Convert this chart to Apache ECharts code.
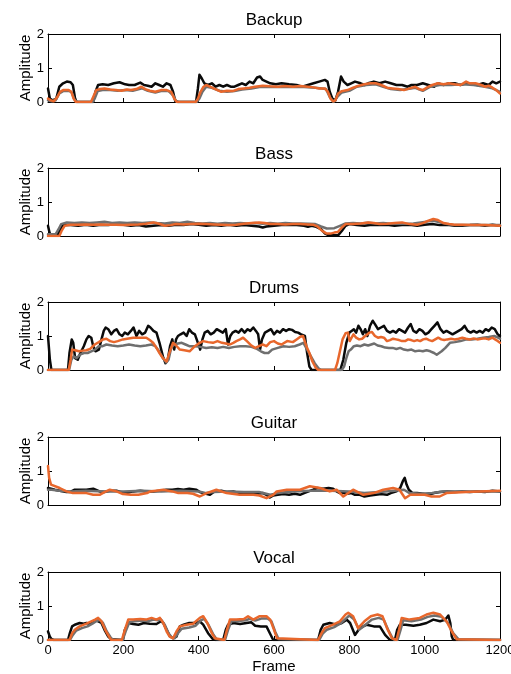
<!DOCTYPE html>
<html><head><meta charset="utf-8">
<script src="https://cdn.jsdelivr.net/npm/echarts@6/dist/echarts.min.js"></script>
<style>html,body{margin:0;padding:0;background:#fff}#c{width:511px;height:674px}</style>
</head><body><div id="c"></div>
<script>
// ---- Data: [frame, amplitude] pairs ----
const panelNames = ['Backup','Bass','Drums','Guitar','Vocal'];
const xTickValues = [0,200,400,600,800,1000,1200];
const yTickValues = [0,1,2];

const backupBlack = [[0,0.4],[5,0.1],[12,0.05],[22,0.1],[30,0.45],[40,0.55],[50,0.6],[60,0.58],[66,0.5],[72,0.1],[76,0],[120,0],[126,0.3],[133,0.5],[145,0.52],[160,0.5],[175,0.55],[190,0.58],[205,0.52],[215,0.5],[230,0.5],[245,0.57],[255,0.5],[265,0.48],[275,0.45],[285,0.55],[295,0.5],[305,0.45],[315,0.55],[325,0.5],[332,0.3],[338,0.02],[345,0],[393,0],[398,0.4],[402,0.8],[408,0.7],[415,0.55],[425,0.5],[435,0.55],[445,0.45],[455,0.5],[465,0.45],[475,0.5],[485,0.45],[495,0.45],[505,0.5],[515,0.55],[525,0.5],[535,0.6],[545,0.55],[555,0.72],[563,0.75],[570,0.65],[580,0.6],[590,0.55],[605,0.52],[620,0.55],[640,0.52],[660,0.5],[675,0.45],[690,0.5],[705,0.55],[720,0.6],[735,0.65],[742,0.6],[748,0.3],[755,0.1],[763,0.05],[770,0.3],[778,0.75],[785,0.6],[795,0.5],[805,0.55],[815,0.6],[830,0.55],[840,0.5],[850,0.55],[865,0.6],[880,0.55],[895,0.6],[910,0.55],[925,0.5],[940,0.5],[955,0.45],[965,0.5],[980,0.5],[995,0.55],[1010,0.5],[1025,0.45],[1035,0.55],[1050,0.5],[1065,0.55],[1080,0.55],[1095,0.5],[1110,0.55],[1125,0.55],[1140,0.5],[1155,0.55],[1170,0.5],[1180,0.6],[1190,0.55],[1200,0.6]];
const backupGray = [[0,0.05],[10,0.02],[20,0.05],[30,0.25],[40,0.32],[55,0.33],[63,0.28],[70,0.08],[77,0],[118,0],[124,0.1],[132,0.32],[145,0.35],[165,0.35],[185,0.33],[205,0.35],[225,0.33],[250,0.4],[265,0.33],[285,0.28],[300,0.32],[320,0.32],[332,0.2],[340,0.03],[347,0],[395,0],[402,0.1],[410,0.3],[420,0.45],[435,0.42],[455,0.33],[475,0.3],[495,0.32],[515,0.37],[540,0.4],[565,0.45],[600,0.44],[640,0.45],[680,0.44],[710,0.42],[738,0.38],[748,0.15],[758,0],[768,0.15],[780,0.28],[800,0.33],[820,0.45],[845,0.5],[870,0.52],[890,0.45],[910,0.38],[935,0.35],[955,0.38],[975,0.42],[995,0.33],[1015,0.45],[1040,0.5],[1070,0.5],[1100,0.52],[1130,0.5],[1160,0.45],[1180,0.4],[1200,0.3]];
const backupOrange = [[0,0.1],[8,0.05],[15,0.02],[25,0.15],[32,0.3],[40,0.35],[55,0.35],[62,0.3],[68,0.1],[74,0],[114,0],[120,0.15],[128,0.35],[138,0.38],[150,0.4],[165,0.37],[180,0.35],[195,0.33],[210,0.37],[220,0.35],[235,0.38],[248,0.45],[258,0.38],[270,0.33],[285,0.3],[300,0.35],[315,0.35],[327,0.3],[335,0.1],[342,0],[392,0],[398,0.1],[405,0.3],[413,0.45],[420,0.5],[430,0.45],[440,0.4],[450,0.35],[460,0.3],[475,0.33],[490,0.32],[505,0.38],[520,0.4],[535,0.42],[550,0.45],[570,0.48],[590,0.46],[610,0.45],[630,0.47],[650,0.45],[670,0.47],[690,0.45],[705,0.43],[720,0.4],[735,0.4],[743,0.3],[750,0.1],[757,0.02],[763,0.05],[770,0.25],[780,0.32],[795,0.35],[810,0.42],[825,0.48],[840,0.52],[855,0.55],[870,0.55],[885,0.5],[900,0.42],[915,0.4],[930,0.38],[945,0.35],[960,0.4],[975,0.45],[985,0.38],[995,0.35],[1005,0.42],[1020,0.5],[1035,0.55],[1050,0.52],[1065,0.55],[1080,0.52],[1095,0.5],[1110,0.6],[1120,0.55],[1135,0.55],[1150,0.5],[1160,0.45],[1170,0.48],[1180,0.42],[1190,0.35],[1200,0.25]];

const bassBlack = [[0,0.3],[4,0.1],[8,0.02],[25,0.02],[31,0.15],[38,0.3],[45,0.33],[60,0.32],[80,0.3],[100,0.33],[120,0.3],[140,0.33],[160,0.32],[180,0.35],[200,0.33],[220,0.3],[240,0.32],[260,0.28],[280,0.3],[300,0.32],[320,0.3],[340,0.33],[360,0.32],[380,0.35],[400,0.33],[420,0.3],[440,0.32],[460,0.3],[480,0.33],[500,0.3],[520,0.32],[540,0.3],[560,0.28],[570,0.25],[580,0.28],[600,0.3],[620,0.32],[640,0.33],[660,0.32],[680,0.3],[690,0.27],[700,0.3],[712,0.27],[725,0.2],[735,0.08],[745,0.02],[770,0.02],[780,0.15],[790,0.3],[800,0.35],[820,0.32],[840,0.3],[860,0.33],[880,0.32],[900,0.33],[920,0.3],[940,0.32],[960,0.33],[980,0.3],[1000,0.33],[1020,0.35],[1040,0.32],[1060,0.33],[1080,0.3],[1100,0.3],[1120,0.32],[1140,0.33],[1160,0.3],[1180,0.33],[1200,0.3]];
const bassGray = [[0,0.05],[20,0.05],[28,0.2],[35,0.35],[50,0.4],[70,0.38],[90,0.4],[110,0.38],[130,0.4],[150,0.42],[170,0.38],[190,0.4],[210,0.38],[230,0.4],[250,0.38],[270,0.4],[290,0.38],[310,0.37],[330,0.4],[350,0.38],[370,0.42],[390,0.38],[410,0.37],[430,0.38],[450,0.36],[470,0.38],[490,0.37],[510,0.38],[530,0.37],[550,0.38],[570,0.36],[590,0.38],[610,0.36],[630,0.38],[650,0.37],[670,0.37],[690,0.36],[710,0.35],[725,0.28],[740,0.22],[760,0.23],[775,0.3],[790,0.37],[810,0.38],[830,0.37],[850,0.39],[870,0.37],[890,0.38],[910,0.36],[930,0.37],[950,0.36],[970,0.37],[990,0.4],[1010,0.43],[1025,0.45],[1040,0.4],[1060,0.35],[1080,0.32],[1100,0.32],[1130,0.32],[1160,0.32],[1200,0.32]];
const bassOrange = [[0,0],[30,0],[36,0.15],[44,0.3],[60,0.33],[80,0.33],[100,0.34],[120,0.33],[140,0.34],[160,0.33],[180,0.33],[200,0.32],[220,0.33],[240,0.34],[260,0.36],[280,0.4],[295,0.36],[310,0.3],[325,0.32],[340,0.35],[360,0.34],[380,0.35],[400,0.36],[420,0.35],[440,0.34],[460,0.33],[480,0.32],[500,0.33],[520,0.36],[540,0.38],[560,0.4],[575,0.38],[590,0.35],[610,0.35],[630,0.34],[650,0.35],[670,0.35],[690,0.34],[705,0.33],[715,0.28],[728,0.15],[740,0.07],[750,0.07],[760,0.1],[770,0.12],[780,0.25],[790,0.35],[810,0.35],[830,0.37],[850,0.4],[865,0.38],[880,0.35],[900,0.36],[920,0.38],[940,0.4],[960,0.35],[980,0.33],[995,0.38],[1010,0.45],[1023,0.5],[1035,0.47],[1050,0.38],[1065,0.35],[1080,0.33],[1100,0.33],[1130,0.32],[1160,0.32],[1200,0.3]];

const drumsBlack = [[0,1.0],[5,0.3],[9,0],[53,0],[57,0.5],[63,0.9],[67,0.8],[72,0.35],[79,0.3],[86,0.5],[95,0.7],[102,0.9],[108,1.0],[115,0.95],[120,0.7],[126,0.55],[135,0.6],[142,0.9],[148,1.15],[153,1.25],[160,1.2],[168,1.05],[175,1.15],[182,1.2],[190,1.05],[197,1.0],[204,1.1],[212,1.05],[220,1.15],[227,1.25],[235,1.0],[242,1.15],[250,1.05],[258,1.1],[266,1.3],[272,1.25],[280,1.15],[288,1.1],[296,0.8],[305,0.4],[312,0.2],[318,0.3],[324,0.7],[330,0.9],[335,0.6],[340,0.9],[345,1.0],[352,1.05],[360,1.1],[368,1.0],[375,1.2],[382,1.1],[390,1.05],[398,0.8],[404,0.6],[410,0.9],[416,1.1],[424,1.15],[432,1.05],[440,1.1],[448,1.2],[456,1.15],[464,1.1],[472,1.2],[478,0.75],[484,1.0],[490,1.1],[498,1.15],[506,1.1],[514,1.2],[522,1.1],[530,1.2],[537,1.15],[545,1.25],[552,1.15],[558,1.05],[563,0.6],[568,0.9],[576,1.1],[584,1.15],[592,1.2],[600,1.05],[608,1.15],[616,1.1],[624,1.2],[632,1.15],[640,1.2],[648,1.18],[656,1.12],[664,1.1],[672,1.05],[682,1.0],[688,0.5],[694,0.1],[700,0],[776,0],[784,0.3],[792,0.8],[800,1.1],[806,1.15],[812,1.2],[818,1.1],[824,1.3],[830,1.2],[836,1.05],[842,1.2],[848,1.0],[855,1.3],[862,1.45],[868,1.35],[876,1.2],[884,1.25],[892,1.3],[900,1.15],[908,1.1],[916,1.15],[924,1.1],[932,1.2],[940,1.15],[948,1.1],[956,1.25],[963,1.35],[970,1.15],[978,1.1],[986,1.2],[994,1.15],[1002,1.05],[1010,1.1],[1018,1.2],[1026,1.3],[1034,1.4],[1042,1.2],[1050,1.1],[1058,1.15],[1066,1.1],[1074,1.05],[1082,1.1],[1090,1.15],[1098,1.2],[1106,1.3],[1114,1.15],[1122,1.1],[1130,1.15],[1138,1.1],[1146,1.15],[1154,1.1],[1162,1.2],[1170,1.15],[1178,1.25],[1186,1.2],[1194,1.05],[1200,1.0]];
const drumsGray = [[0,0],[56,0],[62,0.3],[68,0.4],[76,0.35],[85,0.45],[95,0.5],[105,0.5],[115,0.55],[125,0.6],[135,0.7],[145,0.7],[155,0.75],[170,0.72],[185,0.7],[200,0.72],[215,0.75],[230,0.72],[245,0.7],[260,0.72],[275,0.75],[285,0.7],[295,0.55],[305,0.35],[314,0.22],[320,0.3],[327,0.65],[335,0.75],[345,0.78],[355,0.8],[365,0.75],[375,0.7],[390,0.7],[405,0.68],[420,0.65],[435,0.67],[450,0.65],[465,0.68],[480,0.65],[495,0.68],[510,0.7],[525,0.7],[540,0.68],[555,0.62],[565,0.55],[575,0.5],[585,0.5],[595,0.6],[610,0.65],[625,0.7],[640,0.68],[655,0.7],[668,0.75],[678,0.8],[688,0.6],[698,0.4],[708,0.2],[718,0.05],[725,0],[780,0],[786,0.1],[792,0.35],[798,0.55],[804,0.6],[812,0.7],[820,0.72],[830,0.7],[840,0.75],[850,0.72],[858,0.75],[866,0.78],[875,0.72],[885,0.7],[895,0.66],[905,0.65],[915,0.65],[925,0.62],[935,0.65],[945,0.6],[955,0.58],[965,0.6],[975,0.55],[985,0.57],[995,0.55],[1005,0.58],[1015,0.55],[1025,0.5],[1032,0.45],[1045,0.55],[1055,0.65],[1067,0.8],[1080,0.82],[1095,0.85],[1111,0.9],[1125,0.9],[1140,0.92],[1155,0.95],[1170,0.97],[1185,1.0],[1195,0.95],[1200,0.92]];
const drumsOrange = [[0,0],[55,0],[60,0.3],[64,0.6],[72,0.58],[82,0.55],[92,0.57],[102,0.58],[112,0.62],[124,0.75],[135,0.82],[146,0.9],[155,0.92],[165,0.85],[175,0.82],[185,0.85],[199,0.9],[210,0.92],[226,0.95],[245,0.95],[261,0.95],[270,0.88],[279,0.8],[288,0.65],[296,0.5],[305,0.35],[315,0.25],[322,0.5],[332,0.8],[340,0.72],[350,0.6],[362,0.58],[376,0.55],[390,0.7],[400,0.78],[412,0.85],[425,0.82],[438,0.8],[450,0.85],[462,0.8],[472,0.78],[483,0.75],[492,0.8],[500,0.85],[510,0.9],[518,0.95],[528,0.85],[540,0.72],[550,0.65],[560,0.7],[570,0.75],[580,0.7],[590,0.82],[600,0.85],[610,0.78],[620,0.75],[635,0.85],[650,0.82],[660,0.9],[670,0.98],[677,1.0],[686,0.7],[694,0.5],[702,0.25],[710,0.08],[717,0],[762,0],[768,0.2],[775,0.55],[782,0.9],[790,1.08],[796,1.1],[801,0.85],[806,0.95],[811,1.05],[818,0.95],[826,0.9],[834,0.92],[842,1.0],[848,1.05],[854,1.1],[860,1.12],[868,1.0],[876,0.95],[884,0.97],[892,0.95],[900,0.85],[908,0.88],[916,0.92],[924,0.9],[932,0.88],[940,0.85],[948,0.85],[956,0.9],[964,0.88],[972,0.85],[980,0.88],[988,0.85],[996,0.9],[1004,0.92],[1012,0.88],[1020,0.85],[1028,0.9],[1036,0.95],[1044,0.9],[1052,0.88],[1060,0.9],[1070,0.92],[1080,0.9],[1090,0.92],[1100,0.95],[1110,0.92],[1120,0.9],[1130,0.93],[1140,0.9],[1150,0.92],[1160,0.93],[1170,0.9],[1180,0.95],[1190,0.88],[1200,0.8]];

const guitarBlack = [[0,0.5],[8,0.48],[18,0.45],[31,0.42],[49,0.38],[58,0.38],[71,0.45],[90,0.45],[102,0.45],[120,0.48],[137,0.4],[150,0.38],[164,0.42],[182,0.42],[195,0.38],[208,0.35],[226,0.4],[245,0.42],[260,0.4],[280,0.4],[297,0.42],[314,0.45],[330,0.45],[345,0.47],[360,0.45],[375,0.48],[394,0.45],[403,0.38],[412,0.35],[430,0.3],[440,0.38],[447,0.4],[460,0.42],[475,0.38],[492,0.4],[509,0.35],[525,0.33],[540,0.35],[555,0.33],[571,0.35],[580,0.3],[589,0.22],[598,0.28],[610,0.3],[625,0.32],[640,0.3],[655,0.33],[669,0.3],[680,0.35],[692,0.4],[704,0.45],[715,0.5],[730,0.48],[745,0.5],[757,0.48],[766,0.4],[775,0.35],[785,0.35],[795,0.33],[805,0.35],[815,0.3],[828,0.3],[840,0.25],[855,0.28],[870,0.3],[885,0.32],[900,0.3],[910,0.35],[925,0.4],[935,0.5],[942,0.7],[947,0.8],[952,0.6],[958,0.45],[968,0.35],[980,0.35],[995,0.33],[1010,0.3],[1025,0.35],[1040,0.38],[1060,0.4],[1080,0.38],[1100,0.4],[1120,0.38],[1140,0.4],[1160,0.38],[1180,0.42],[1200,0.4]];
const guitarGray = [[0,0.45],[10,0.45],[30,0.42],[60,0.4],[100,0.42],[150,0.4],[200,0.4],[250,0.42],[300,0.4],[350,0.42],[400,0.4],[420,0.35],[440,0.38],[480,0.4],[520,0.38],[560,0.38],[590,0.3],[610,0.35],[650,0.4],[700,0.42],[750,0.42],[800,0.4],[840,0.35],[880,0.38],[920,0.42],[945,0.45],[960,0.35],[990,0.33],[1020,0.35],[1050,0.4],[1100,0.4],[1150,0.4],[1200,0.4]];
const guitarOrange = [[0,1.15],[3,0.8],[8,0.6],[13,0.55],[31,0.5],[49,0.4],[66,0.35],[84,0.35],[102,0.35],[120,0.3],[137,0.3],[150,0.38],[164,0.45],[182,0.4],[199,0.32],[220,0.3],[240,0.3],[263,0.35],[271,0.4],[306,0.45],[330,0.4],[346,0.35],[370,0.35],[385,0.33],[403,0.25],[421,0.35],[447,0.45],[474,0.35],[509,0.3],[545,0.3],[561,0.28],[580,0.2],[598,0.3],[607,0.4],[634,0.45],[669,0.45],[695,0.55],[722,0.5],[748,0.4],[766,0.45],[784,0.25],[810,0.45],[837,0.3],[864,0.35],[890,0.45],[916,0.5],[933,0.45],[948,0.2],[962,0.3],[1000,0.3],[1018,0.25],[1040,0.25],[1058,0.35],[1110,0.38],[1200,0.42]];

const vocalBlack = [[0,0.25],[5,0.1],[9,0.03],[15,0],[53,0],[58,0.2],[64,0.4],[71,0.45],[84,0.5],[95,0.48],[102,0.5],[110,0.48],[120,0.55],[128,0.58],[133,0.6],[142,0.5],[150,0.3],[160,0.1],[168,0.02],[173,0],[199,0],[204,0.3],[213,0.5],[226,0.47],[240,0.45],[255,0.5],[270,0.48],[288,0.47],[300,0.55],[306,0.5],[315,0.3],[323,0.12],[332,0.05],[341,0.1],[350,0.4],[360,0.45],[375,0.5],[394,0.5],[403,0.55],[412,0.45],[425,0.2],[438,0.02],[445,0],[465,0],[472,0.3],[478,0.45],[492,0.5],[510,0.47],[527,0.5],[540,0.52],[550,0.42],[565,0.4],[580,0.4],[589,0.2],[598,0],[717,0],[724,0.3],[731,0.45],[748,0.5],[766,0.45],[780,0.5],[793,0.6],[802,0.5],[815,0.15],[828,0.35],[846,0.45],[865,0.4],[881,0.4],[895,0.15],[908,0],[921,0],[927,0.3],[934,0.45],[950,0.45],[970,0.42],[987,0.45],[1005,0.5],[1023,0.6],[1041,0.55],[1055,0.6],[1063,0.72],[1068,0.5],[1072,0.1],[1076,0],[1200,0]];
const vocalGray = [[0,0],[58,0],[66,0.15],[75,0.28],[90,0.35],[105,0.4],[118,0.48],[128,0.55],[137,0.6],[146,0.5],[156,0.25],[166,0.08],[173,0],[198,0],[206,0.25],[216,0.52],[230,0.55],[250,0.57],[265,0.55],[280,0.6],[292,0.58],[300,0.6],[310,0.45],[320,0.2],[328,0.08],[336,0.05],[345,0.2],[355,0.33],[375,0.37],[392,0.42],[406,0.58],[415,0.62],[426,0.45],[438,0.18],[447,0.03],[451,0],[470,0],[478,0.3],[487,0.55],[505,0.56],[525,0.58],[535,0.62],[550,0.57],[566,0.63],[583,0.63],[593,0.55],[603,0.25],[612,0.03],[616,0],[720,0],[730,0.2],[740,0.3],[760,0.38],[778,0.5],[793,0.65],[800,0.72],[813,0.6],[826,0.3],[843,0.45],[860,0.6],[878,0.65],[891,0.6],[903,0.3],[916,0.03],[922,0],[928,0],[936,0.3],[943,0.58],[965,0.55],[990,0.6],[1008,0.68],[1026,0.72],[1045,0.68],[1062,0.5],[1076,0.2],[1090,0.02],[1095,0],[1200,0]];
const vocalOrange = [[0,0],[57,0],[64,0.2],[71,0.3],[84,0.4],[102,0.48],[115,0.55],[125,0.6],[133,0.65],[142,0.55],[152,0.3],[162,0.1],[168,0],[196,0],[204,0.3],[213,0.6],[226,0.6],[245,0.62],[260,0.6],[275,0.65],[288,0.6],[297,0.65],[306,0.5],[315,0.25],[323,0.1],[332,0.05],[341,0.25],[350,0.4],[368,0.45],[385,0.48],[403,0.65],[412,0.7],[423,0.5],[435,0.2],[443,0.05],[447,0],[468,0],[475,0.3],[483,0.6],[500,0.6],[520,0.62],[531,0.7],[545,0.6],[562,0.7],[580,0.7],[590,0.6],[600,0.3],[608,0.05],[612,0],[717,0],[726,0.2],[735,0.35],[757,0.45],[775,0.55],[790,0.75],[797,0.8],[810,0.7],[823,0.35],[840,0.55],[857,0.7],[875,0.75],[888,0.7],[900,0.35],[913,0.05],[918,0],[925,0],[932,0.3],[939,0.65],[960,0.6],[987,0.65],[1005,0.75],[1023,0.8],[1041,0.75],[1058,0.55],[1072,0.25],[1085,0.02],[1090,0],[1200,0]];

const panelSeries = [
  [backupBlack, backupGray, backupOrange],
  [bassBlack, bassGray, bassOrange],
  [drumsBlack, drumsGray, drumsOrange],
  [guitarBlack, guitarGray, guitarOrange],
  [vocalBlack, vocalGray, vocalOrange]
];

// ---- Styling / layout ----
const lineColors = ['#0a0a0a', '#6f6f6f', '#e8672c'];
const font = '"Liberation Sans", Arial, Helvetica, sans-serif';
const tops = [34, 168, 302, 437, 572];
const plotH = 68;

const grid = [], xAxis = [], yAxis = [], series = [], title = [];
panelNames.forEach((name, i) => {
  grid.push({left: 48, right: 11, top: tops[i], height: plotH, containLabel: false, outerBoundsMode: 'none'});
  title.push({text: name, left: 274, top: tops[i] - 22, textAlign: 'center', padding: 0,
    textStyle: {fontFamily: font, fontSize: 17, fontWeight: 'normal', color: '#000'}});
  const axLine = {show: true, onZero: false, lineStyle: {color: '#000', width: 1}};
  const axTick = {show: true, inside: true, length: 4, lineStyle: {color: '#000', width: 1}};
  const xBase = {type: 'value', gridIndex: i, min: xTickValues[0], max: xTickValues[xTickValues.length - 1],
    interval: xTickValues[1] - xTickValues[0], splitLine: {show: false}, axisLine: axLine, axisTick: axTick};
  xAxis.push(Object.assign({}, xBase, {position: 'bottom',
    axisLabel: {show: i === 4, margin: 4, color: '#000', fontFamily: font, fontSize: 13, formatter: v => String(v)},
    name: i === 4 ? 'Frame' : '', nameLocation: 'middle', nameGap: 19, nameMoveOverlap: false,
    nameTextStyle: {color: '#000', fontFamily: font, fontSize: 15}}));
  xAxis.push(Object.assign({}, xBase, {position: 'top', axisLabel: {show: false}}));
  const yBase = {type: 'value', gridIndex: i, min: yTickValues[0], max: yTickValues[yTickValues.length - 1],
    interval: yTickValues[1] - yTickValues[0], splitLine: {show: false}, axisLine: axLine, axisTick: axTick};
  yAxis.push(Object.assign({}, yBase, {position: 'left',
    axisLabel: {show: true, margin: 4, color: '#000', fontFamily: font, fontSize: 13},
    name: 'Amplitude', nameLocation: 'middle', nameGap: 15, nameRotate: 90, nameMoveOverlap: false,
    nameTextStyle: {color: '#000', fontFamily: font, fontSize: 15}}));
  yAxis.push(Object.assign({}, yBase, {position: 'right', axisLabel: {show: false}}));
  panelSeries[i].forEach((data, k) => {
    series.push({type: 'line', xAxisIndex: 2 * i, yAxisIndex: 2 * i, data: data,
      showSymbol: false, symbol: 'none', clip: true, z: 2 + k,
      lineStyle: {color: lineColors[k], width: 2.5, join: 'round', cap: 'round'}});
  });
});

const chart = echarts.init(document.getElementById('c'), null, {renderer: 'canvas'});
chart.setOption({animation: false, backgroundColor: '#fff', title, grid, xAxis, yAxis, series});
</script>
</body></html>
